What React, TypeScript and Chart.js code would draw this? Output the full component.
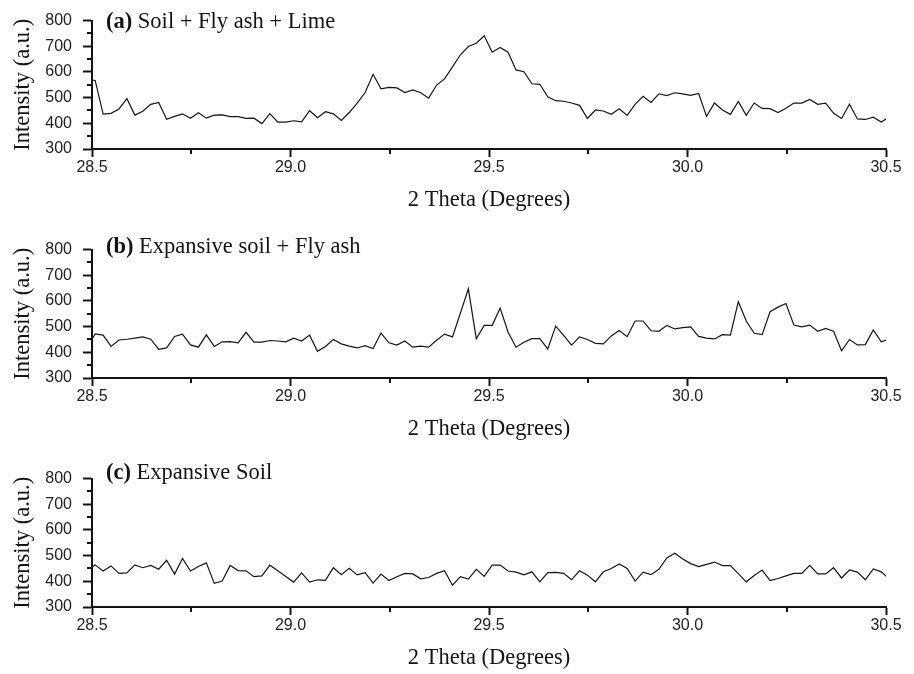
import { useEffect, useRef } from 'react';
import { Chart, registerables } from 'chart.js';

Chart.register(...registerables);

// 2θ sampling of the diffractogram (first and last samples fall just outside the 28.5–30.5 window)
const thetaStart = 28.488;
const thetaStep = 0.02;

const xTickValues = [28.5, 29.0, 29.5, 30.0, 30.5];
const xMinorValues = [28.75, 29.25, 29.75, 30.25];
const yTickValues = [300, 400, 500, 600, 700, 800];
const yMinorValues = [350, 450, 550, 650, 750];

const panelTags = ['(a)', '(b)', '(c)'];
const panelNames = ['Soil + Fly ash + Lime', 'Expansive soil + Fly ash', 'Expansive Soil'];

const intensitySoilFlyAshLime = [
  570, 567, 436, 439, 456, 496, 432, 447, 474, 481, 416, 427, 437, 420, 441, 420, 432, 433, 426, 426,
  419, 420, 399, 438, 405, 405, 410, 406, 449, 422, 445, 437, 411, 442, 479, 520, 591, 534, 540, 538,
  520, 530, 519, 498, 549, 573, 620, 667, 699, 712, 741, 677, 695, 677, 608, 601, 554, 552, 503, 488,
  486, 479, 470, 419, 452, 448, 435, 457, 431, 474, 505, 481, 515, 508, 519, 515, 509, 516, 427, 479,
  452, 435, 485, 431, 479, 458, 457, 442, 459, 479, 479, 493, 474, 479, 439, 419, 474, 417, 415, 424,
  405, 425,
];

const intensitySoilFlyAsh = [
  420, 472, 467, 423, 448, 451, 455, 460, 451, 412, 417, 462, 471, 429, 420, 468, 423, 441, 442, 437,
  478, 440, 440, 446, 444, 441, 455, 444, 467, 404, 423, 450, 433, 424, 417, 426, 415, 475, 437, 428,
  444, 420, 424, 420, 447, 471, 460, 553, 647, 453, 505, 505, 572, 479, 420, 439, 453, 453, 413, 502,
  466, 428, 460, 450, 435, 433, 464, 485, 461, 522, 522, 484, 482, 505, 491, 496, 499, 462, 455, 452,
  469, 467, 597, 522, 474, 469, 558, 576, 590, 506, 499, 506, 482, 493, 482, 406, 450, 429, 430, 487,
  441, 452,
];

const intensityExpansiveSoil = [
  444, 464, 440, 460, 431, 433, 464, 453, 462, 447, 482, 428, 489, 440, 458, 472, 392, 401, 462, 442,
  441, 418, 421, 463, 441, 419, 397, 433, 397, 406, 404, 453, 426, 451, 425, 434, 393, 428, 403, 418,
  431, 429, 410, 415, 431, 441, 385, 418, 409, 447, 419, 463, 463, 440, 436, 425, 437, 398, 434, 435,
  431, 406, 441, 424, 398, 437, 450, 468, 450, 401, 436, 426, 447, 491, 509, 487, 469, 457, 466, 475,
  461, 461, 430, 398, 423, 444, 403, 411, 421, 431, 431, 462, 429, 429, 453, 413, 444, 436, 406, 448,
  437, 410,
];

const panelSeries = [intensitySoilFlyAshLime, intensitySoilFlyAsh, intensityExpansiveSoil];
const labelBaselines = [27.6, 23.6, 21.3];

const CANVAS_W = 914;
const CANVAS_H = 229;
const AREA_LEFT = 92;
const AREA_TOP = 13;
const AREA_BOTTOM = 149;
const INK = '#141414';
const SANS = '"Liberation Sans", Arial, sans-serif';
const SERIF = '"Liberation Serif", "Times New Roman", serif';

const minorTicksPlugin = {
  id: 'minorTicks',
  afterDraw(chart: any) {
    const { ctx, chartArea, scales } = chart;
    ctx.save();
    ctx.strokeStyle = INK;
    ctx.lineWidth = 2;
    ctx.beginPath();
    xMinorValues.forEach((v) => {
      const px = Math.round(scales.x.getPixelForValue(v));
      ctx.moveTo(px, chartArea.bottom);
      ctx.lineTo(px, chartArea.bottom + 5);
    });
    yMinorValues.forEach((v) => {
      const py = Math.round(scales.y.getPixelForValue(v));
      ctx.moveTo(chartArea.left, py);
      ctx.lineTo(chartArea.left - 5, py);
    });
    ctx.stroke();
    ctx.restore();
  },
};

const panelLabelPlugin = {
  id: 'panelLabel',
  afterDraw(chart: any, _args: any, opts: any) {
    const { ctx } = chart;
    ctx.save();
    ctx.fillStyle = INK;
    ctx.textAlign = 'left';
    ctx.textBaseline = 'alphabetic';
    ctx.font = `bold 22.5px ${SERIF}`;
    ctx.fillText(opts.tag, opts.x, opts.baseline);
    const w = ctx.measureText(opts.tag).width;
    ctx.font = `22.5px ${SERIF}`;
    ctx.fillText(' ' + opts.name, opts.x + w, opts.baseline);
    ctx.restore();
  },
};

function Panel({ index, top }: { index: number; top: number }) {
  const ref = useRef<HTMLCanvasElement | null>(null);

  useEffect(() => {
    if (!ref.current) return;
    const values = panelSeries[index];
    const chart = new Chart(ref.current, {
      type: 'line',
      data: {
        datasets: [
          {
            data: values.map((v, i) => ({ x: thetaStart + i * thetaStep, y: v })),
            borderColor: '#151515',
            borderWidth: 1.2,
            pointRadius: 0,
            tension: 0,
            fill: false,
          },
        ],
      },
      options: {
        responsive: false,
        animation: false,
        devicePixelRatio: 1,
        events: [],
        layout: { padding: { top: AREA_TOP, right: CANVAS_W - 886, left: 0, bottom: 0 } },
        plugins: {
          legend: { display: false },
          tooltip: { enabled: false },
          panelLabel: { tag: panelTags[index], name: panelNames[index], x: 106, baseline: labelBaselines[index] },
        } as any,
        scales: {
          x: {
            type: 'linear',
            min: 28.5,
            max: 30.5,
            afterFit: (s: any) => {
              s.height = CANVAS_H - AREA_BOTTOM;
            },
            afterBuildTicks: (s: any) => {
              s.ticks = xTickValues.map((v) => ({ value: v }));
            },
            ticks: {
              callback: (v: any) => Number(v).toFixed(1),
              font: { family: SANS, size: 16 },
              color: '#222',
              padding: 1,
              maxRotation: 0,
              autoSkip: false,
            },
            grid: {
              display: true,
              drawOnChartArea: false,
              drawTicks: true,
              tickLength: 8,
              tickWidth: 2,
              tickColor: INK,
            },
            border: { display: true, color: INK, width: 2 },
            title: {
              display: true,
              text: '2 Theta (Degrees)',
              font: { family: SERIF, size: 22.5 },
              color: INK,
              padding: { top: 0, bottom: 15 },
            },
          },
          y: {
            type: 'linear',
            min: 300,
            max: 800,
            afterFit: (s: any) => {
              s.width = AREA_LEFT;
            },
            afterBuildTicks: (s: any) => {
              s.ticks = yTickValues.map((v) => ({ value: v }));
            },
            ticks: {
              font: { family: SANS, size: 16 },
              color: '#222',
              padding: 11,
            },
            grid: {
              display: true,
              drawOnChartArea: false,
              drawTicks: true,
              tickLength: 9,
              tickWidth: 2,
              tickColor: INK,
            },
            border: { display: true, color: INK, width: 2 },
            title: {
              display: true,
              text: 'Intensity (a.u.)',
              font: { family: SERIF, size: 22.5 },
              color: INK,
              padding: { top: 10, bottom: 0 },
            },
          },
        },
      },
      plugins: [minorTicksPlugin, panelLabelPlugin],
    } as any);
    return () => chart.destroy();
  }, [index]);

  return (
    <canvas
      ref={ref}
      width={CANVAS_W}
      height={CANVAS_H}
      style={{ position: 'absolute', left: 0, top, width: CANVAS_W, height: CANVAS_H, display: 'block' }}
    />
  );
}

export default function App() {
  return (
    <div
      style={{
        position: 'absolute',
        left: 0,
        top: 0,
        width: 914,
        height: 674,
        overflow: 'hidden',
        background: '#fff',
      }}
    >
      <Panel index={0} top={0} />
      <Panel index={1} top={229} />
      <Panel index={2} top={458} />
    </div>
  );
}
